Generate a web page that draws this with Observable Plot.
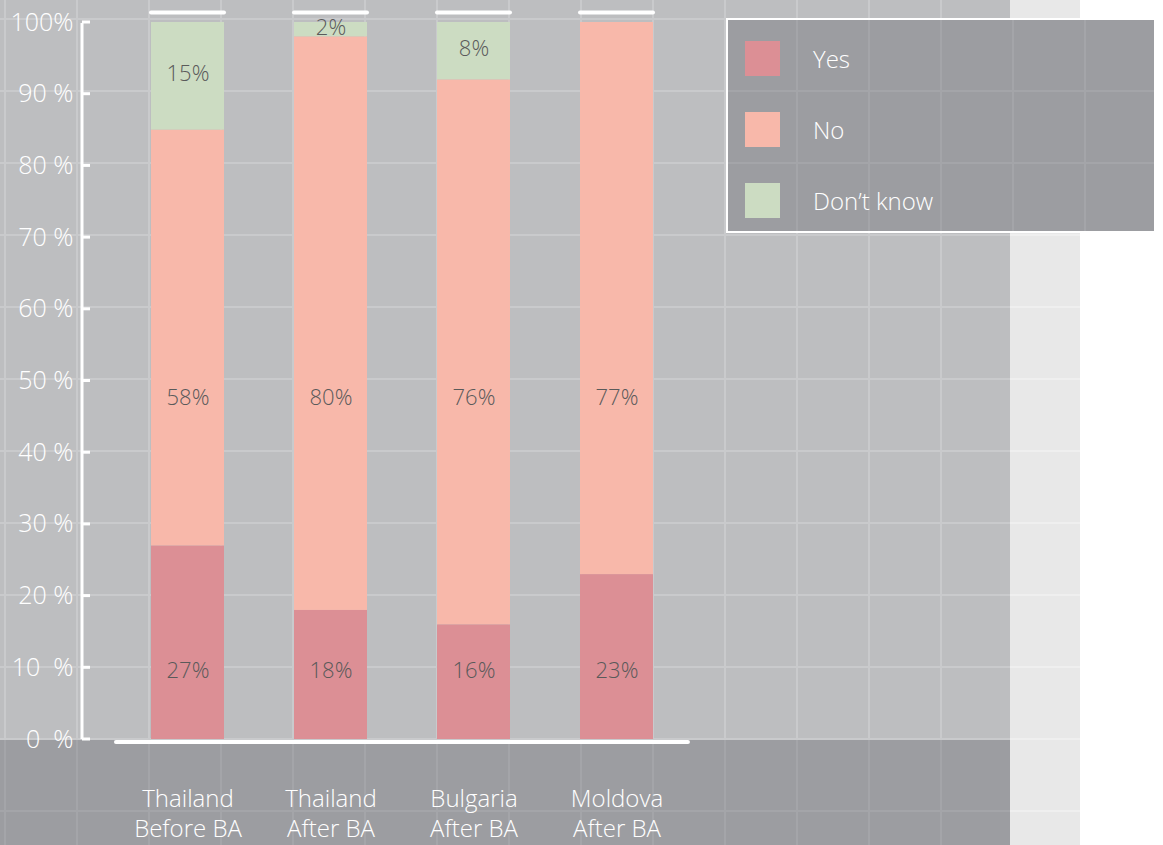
<!DOCTYPE html>
<html><head><meta charset="utf-8">
<script src="https://cdn.jsdelivr.net/npm/d3@7"></script>
<script src="https://cdn.jsdelivr.net/npm/@observablehq/plot@0.6"></script>
<style>
body{margin:0;background:#fff;}
#wrap{position:relative;width:1163px;height:845px;overflow:hidden;font-family:"Open Sans",sans-serif;}
.bg{position:absolute;}
#gray{left:0;top:0;width:1010px;height:740px;background-color:#bdbec0;
 background-image:linear-gradient(to right,#c9cacc 0 2px,transparent 2px),linear-gradient(to bottom,#c9cacc 0 2px,transparent 2px);
 background-size:72px 72px;background-position:4px 18px;}
#dark{left:0;top:740px;width:1010px;height:105px;background-color:#9c9da1;
 background-image:linear-gradient(to right,#a4a5a9 0 2px,transparent 2px),linear-gradient(to bottom,#a4a5a9 0 2px,transparent 2px);
 background-size:72px 72px;background-position:4px 70px;}
#strip{left:1010px;top:0;width:70px;height:845px;background-color:#e8e8e8;
 background-image:linear-gradient(to bottom,#efefef 0 2px,transparent 2px);
 background-size:72px 72px;background-position:0 18px;}
#legend{position:absolute;left:726px;top:18px;width:430px;height:215px;box-sizing:border-box;border:2px solid #fff;
 background-color:#9c9da1;
 background-image:linear-gradient(to right,#a4a5a9 0 2px,transparent 2px),linear-gradient(to bottom,#a4a5a9 0 2px,transparent 2px);
 background-size:72px 72px;background-position:68px 70px;}
.row{position:absolute;left:17px;height:35px;display:flex;align-items:center;}
.sw{width:35px;height:35px;}
.lab{margin-left:33px;color:#fff;font-size:24px;font-weight:300;font-family:"Open Sans",sans-serif;}
#chart{position:absolute;left:0;top:0;}
</style>
</head><body>
<div id="wrap">
  <div class="bg" id="gray"></div>
  <div class="bg" id="dark"></div>
  <div class="bg" id="strip"></div>
  <div id="chart"></div>
  <div id="legend"></div>
</div>
<script>
const categories = ["Thailand\nBefore BA", "Thailand\nAfter BA", "Bulgaria\nAfter BA", "Moldova\nAfter BA"];
const responses = ["Yes", "No", "Don’t know"];
const yesValues = [27, 18, 16, 23];
const noValues = [58, 80, 76, 77];
const dontKnowValues = [15, 2, 8, 0];
const colors = ["#dc8f95", "#f8b8aa", "#ccdcc2"];
const yTickValues = [0, 10, 20, 30, 40, 50, 60, 70, 80, 90, 100];
const yTickLabels = ["0  %", "10  %", "20 %", "30 %", "40 %", "50 %", "60 %", "70 %", "80 %", "90 %", "100%"];

const series = [yesValues, noValues, dontKnowValues];
const rows = [];
categories.forEach((cat, i) => {
  responses.forEach((resp, j) => {
    if (series[j][i] > 0) rows.push({cat, resp, value: series[j][i]});
  });
});

// value labels: Yes near the bottom, No at a fixed height, Don't know centred in its segment
const labels = [];
categories.forEach((cat, i) => {
  labels.push({cat, y: 9.6, text: yesValues[i] + "%"});
  labels.push({cat, y: 47.6, text: noValues[i] + "%"});
  if (dontKnowValues[i] > 0)
    labels.push({cat, y: yesValues[i] + noValues[i] + dontKnowValues[i] / 2 + 0.3, text: dontKnowValues[i] + "%"});
});

// y axis line with inward ticks, and the white baseline under the bars
const axisLine = (index, scales, values, dims) => {
  const {x, y} = scales;
  const x0 = dims.marginLeft;
  const step = x(categories[1]) - x(categories[0]);
  const bx1 = x(categories[0]) - step * 0.245;
  const bx2 = x(categories[categories.length - 1]) + step * (1 - 0.245);
  const g = d3.create("svg:g").attr("stroke", "white").attr("fill", "none");
  g.append("path").attr("stroke-width", 3).attr("d", `M${x0},${y(100) + 1}V${y(0)}`);
  for (const v of yTickValues) g.append("path").attr("stroke-width", 3).attr("d", `M${x0},${y(v)}H${x0 + 8}`);
  g.append("path").attr("stroke-width", 4).attr("stroke-linecap", "round").attr("d", `M${bx1},${y(0) + 3}H${bx2}`);
  return g.node();
};

const chart = Plot.plot({
  width: 1163, height: 845,
  marginLeft: 82, marginRight: 0, marginTop: 22, marginBottom: 106,
  style: {background: "transparent", fontFamily: "'Open Sans', sans-serif", overflow: "visible"},
  x: {domain: categories, range: [116, 688], paddingInner: 0.49, paddingOuter: 0.245, axis: null, label: null},
  y: {domain: [0, 100], axis: null, label: null},
  color: {domain: responses, range: colors},
  marks: [
    Plot.barY(rows, {x: "cat", y: "value", fill: "resp", order: responses}),
    Plot.tickY(categories, {x: d => d, y: () => 101.4, stroke: "white", strokeWidth: 4, strokeLinecap: "round"}),
    Plot.text(labels, {x: "cat", y: "y", text: "text", fill: "#5a5a5a", fontSize: 22, fontWeight: 300}),
    Plot.axisY({ticks: yTickValues, tickFormat: d => yTickLabels[yTickValues.indexOf(d)], tickSize: 0, tickPadding: 9, color: "white", fontSize: 25, fontWeight: 300, label: null}),
    Plot.axisX({tickSize: 0, tickPadding: 47, color: "white", fontSize: 24, fontWeight: 300, lineHeight: 1.22, label: null}),
    axisLine
  ]
});
document.getElementById("chart").appendChild(chart);

const legend = document.getElementById("legend");
responses.forEach((r, i) => {
  const row = document.createElement("div");
  row.className = "row";
  row.style.top = (21 + 71 * i) + "px";
  const sw = document.createElement("div");
  sw.className = "sw";
  sw.style.background = colors[i];
  const lab = document.createElement("span");
  lab.className = "lab";
  lab.textContent = r;
  row.appendChild(sw); row.appendChild(lab);
  legend.appendChild(row);
});
</script>
</body></html>
